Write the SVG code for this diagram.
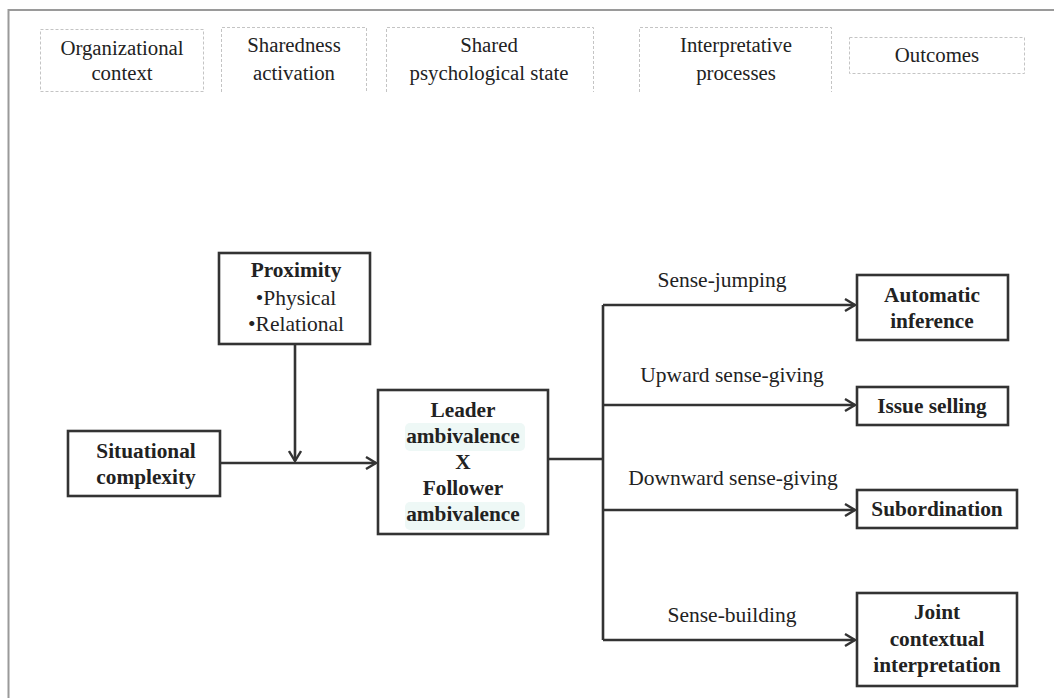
<svg xmlns="http://www.w3.org/2000/svg" width="1054" height="698" viewBox="0 0 1054 698">
<defs>
<style>
.hdr{fill:none;stroke:#c4c4c4;stroke-width:1;stroke-dasharray:3 2}
.box{fill:#fff;stroke:#333;stroke-width:2.6}
.h{font-family:'Liberation Serif','DejaVu Serif',serif;font-size:20.8px;fill:#222;text-anchor:middle}
.t{font-family:'Liberation Serif','DejaVu Serif',serif;font-size:21.5px;fill:#222;text-anchor:middle}
.b{font-family:'Liberation Serif','DejaVu Serif',serif;font-size:21.3px;font-weight:bold;fill:#222;text-anchor:middle}
.c{fill:none;stroke:#333;stroke-width:2.6}
</style>
<marker id="ah" markerWidth="14" markerHeight="14" refX="12" refY="7" orient="auto" markerUnits="userSpaceOnUse">
<path d="M2,1 L12,7 L2,13" fill="none" stroke="#333" stroke-width="2.4"/>
</marker>
</defs>
<rect width="1054" height="698" fill="#fff"/>
<path d="M8.5,698 L8.5,10 L1054,10" fill="none" stroke="#9a9a9a" stroke-width="2"/>

<g id="header-org"><rect class="hdr" x="40.5" y="29.5" width="163" height="62"/><text class="h" x="122" y="55">Organizational</text><text class="h" x="122" y="80">context</text></g>
<g id="header-sharedness"><path class="hdr" d="M221.5,92 L221.5,27.5 L366.5,27.5 L366.5,92"/><text class="h" x="294" y="52">Sharedness</text><text class="h" x="294" y="80">activation</text></g>
<g id="header-psych"><path class="hdr" d="M386.5,92 L386.5,27.5 L593.5,27.5 L593.5,92"/><text class="h" x="489" y="52">Shared</text><text class="h" x="489" y="80">psychological state</text></g>
<g id="header-interp"><path class="hdr" d="M639.5,92 L639.5,27.5 L831.5,27.5 L831.5,92"/><text class="h" x="736" y="52">Interpretative</text><text class="h" x="736" y="80">processes</text></g>
<g id="header-outcomes"><rect class="hdr" x="849.5" y="37.5" width="175" height="36"/><text class="h" x="937" y="62">Outcomes</text></g>

<g id="connectors">
<path class="c" d="M295,344 L295,461" marker-end="url(#ah)"/>
<path class="c" d="M220,463 L376,463" marker-end="url(#ah)"/>
<path class="c" d="M548,459 L603,459"/>
<path class="c" d="M603,305 L603,640"/>
<path class="c" d="M603,305 L855,305" marker-end="url(#ah)"/>
<path class="c" d="M603,405 L855,405" marker-end="url(#ah)"/>
<path class="c" d="M603,510 L855,510" marker-end="url(#ah)"/>
<path class="c" d="M603,640 L855,640" marker-end="url(#ah)"/>
<text class="t" x="722" y="287">Sense-jumping</text>
<text class="t" x="732" y="382">Upward sense-giving</text>
<text class="t" x="733" y="485">Downward sense-giving</text>
<text class="t" x="732" y="622">Sense-building</text>
</g>

<g id="proximity"><rect class="box" x="219" y="253" width="151" height="91"/><text class="b" x="296" y="277">Proximity</text><text class="t" x="296" y="305">•Physical</text><text class="t" x="296" y="331">•Relational</text></g>
<g id="situational"><rect class="box" x="68" y="431" width="152" height="65"/><text class="b" x="146" y="458">Situational</text><text class="b" x="146" y="484">complexity</text></g>
<g id="leader"><rect class="box" x="378" y="390" width="170" height="144"/>
<rect x="405" y="423" width="120" height="28" rx="5" fill="#eef8f6"/>
<rect x="405" y="502" width="120" height="28" rx="5" fill="#eef8f6"/>
<text class="b" x="463" y="417">Leader</text><text class="b" x="463" y="443">ambivalence</text><text class="b" x="463" y="469">X</text><text class="b" x="463" y="495">Follower</text><text class="b" x="463" y="521">ambivalence</text></g>
<g id="automatic"><rect class="box" x="857" y="275" width="151" height="65"/><text class="b" x="932" y="302">Automatic</text><text class="b" x="932" y="328">inference</text></g>
<g id="issue"><rect class="box" x="857" y="387" width="151" height="38"/><text class="b" x="932" y="413">Issue selling</text></g>
<g id="subordination"><rect class="box" x="857" y="490" width="160" height="38"/><text class="b" x="937" y="516">Subordination</text></g>
<g id="joint"><rect class="box" x="857" y="593" width="160" height="93"/><text class="b" x="937" y="619">Joint</text><text class="b" x="937" y="646">contextual</text><text class="b" x="937" y="672">interpretation</text></g>
</svg>
